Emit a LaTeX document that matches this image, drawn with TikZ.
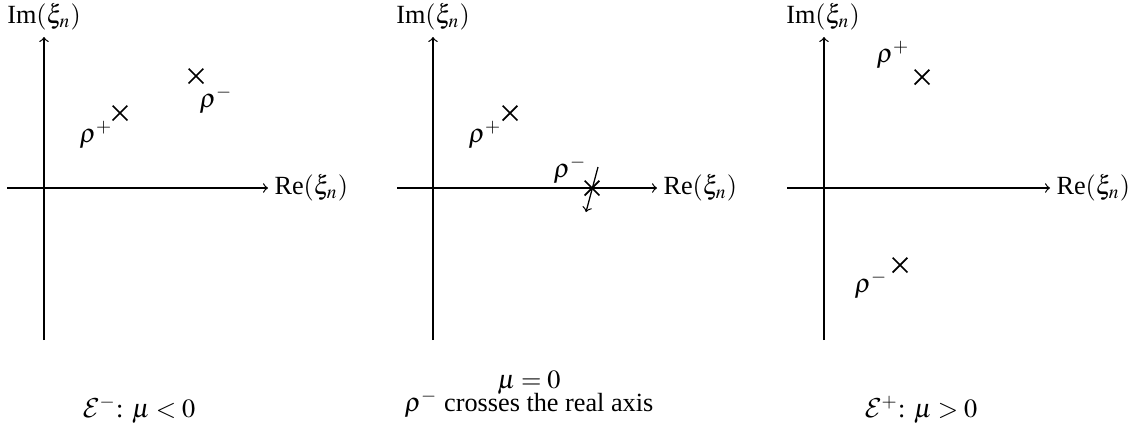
\documentclass[tikz,border=0pt]{standalone}
\usepackage{mathptmx}
\usepackage[no-math]{fontspec}
\setmainfont{Liberation Serif}
\DeclareMathAlphabet{\mathcal}{OMS}{cmsy}{m}{n}
\usetikzlibrary{shapes.misc}
\begin{document}
\begin{tikzpicture}[x=0.4pt,y=-0.4pt,
  axis/.style={->, line width=0.5pt},
  pole/.style={cross out, draw, line width=0.7pt, minimum size=5.2pt, inner sep=0pt},
  lbl/.style={inner sep=0pt, font=\fontsize{10.5}{12}\selectfont}]
\useasboundingbox (0,0) rectangle (1141,436);
% panel 1
\coordinate (a1w) at (7,188); \coordinate (a1e) at (268,188);
\coordinate (a1s) at (44,340); \coordinate (a1n) at (44,37);
\draw[axis] (a1w) -- (a1e);
\draw[axis] (a1s) -- (a1n);
\node[lbl, anchor=west] (re1) at (274,188) {Re$(\xi_n)$};
\node[lbl] (im1) at (44,17) {Im$(\xi_n)$};
\node[pole] (p1) at (120,113) {};
\node[lbl] (lp1) at (96,135) {$\rho^+$};
\node[pole] (m1) at (196,76) {};
\node[lbl] (lm1) at (216,100) {$\rho^-$};
% panel 2
\coordinate (a2w) at (397,188); \coordinate (a2e) at (657,188);
\coordinate (a2s) at (433,340); \coordinate (a2n) at (433,37);
\draw[axis] (a2w) -- (a2e);
\draw[axis] (a2s) -- (a2n);
\node[lbl, anchor=west] (re2) at (663,188) {Re$(\xi_n)$};
\node[lbl] (im2) at (433,17) {Im$(\xi_n)$};
\node[pole] (p2) at (510,113) {};
\node[lbl] (lp2) at (485,135) {$\rho^+$};
\node[pole] (m2) at (592,188) {};
\node[lbl] (lm2) at (570,170) {$\rho^-$};
\coordinate (s2) at (598,167); \coordinate (t2) at (586,212);
\draw[->, line width=0.5pt] (s2) -- (t2);
% panel 3
\coordinate (a3w) at (787,188); \coordinate (a3e) at (1050,188);
\coordinate (a3s) at (824,340); \coordinate (a3n) at (824,37);
\draw[axis] (a3w) -- (a3e);
\draw[axis] (a3s) -- (a3n);
\node[lbl, anchor=west] (re3) at (1056,188) {Re$(\xi_n)$};
\node[lbl] (im3) at (823,17) {Im$(\xi_n)$};
\node[pole] (p3) at (922,77) {};
\node[lbl] (lp3) at (893,55) {$\rho^+$};
\node[pole] (m3) at (900,265) {};
\node[lbl] (lm3) at (871,285) {$\rho^-$};
% captions
\node[lbl] (c1) at (139,410) {$\mathcal{E}^-$: $\mu<0$};
\node[lbl, align=center] (c2) at (529,394) {$\mu=0$\\[-3pt] $\rho^-$ crosses the real axis};
\node[lbl] (c3) at (921,410) {$\mathcal{E}^+$: $\mu>0$};
\end{tikzpicture}
\end{document}
